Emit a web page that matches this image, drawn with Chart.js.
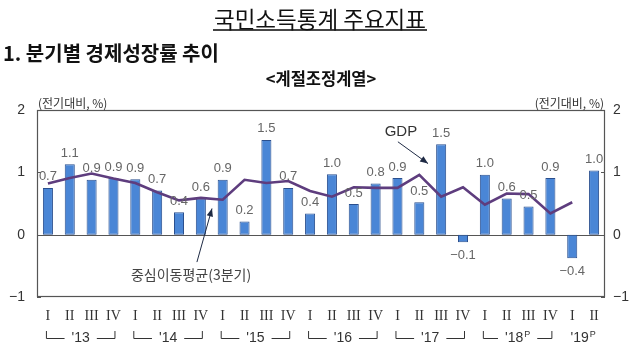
<!DOCTYPE html>
<html><head><meta charset="utf-8">
<script src="https://cdn.jsdelivr.net/npm/chart.js@4.4.1/dist/chart.umd.min.js"></script>
<style>
html,body{margin:0;padding:0;background:#fff;width:640px;height:359px;overflow:hidden;}
#wrap{position:relative;width:640px;height:359px;}
#c{position:absolute;left:0;top:0;}
.t{position:absolute;white-space:nowrap;color:#111;font-family:"Noto Sans CJK KR","Noto Sans",sans-serif;}
#title{left:0;width:640px;text-align:center;top:2px;font-size:22.5px;}
#title span{display:inline-block;line-height:22px;border-bottom:2px solid #444;padding:0 1px;}
#head{left:3px;top:40px;font-size:20px;line-height:26px;font-weight:bold;}
#sub{left:0;width:642px;text-align:center;top:67px;font-size:16.5px;line-height:22px;font-weight:bold;}
</style></head>
<body><div id="wrap">
<canvas id="c" width="640" height="359"></canvas>
<div class="t" id="title"><span>국민소득통계 주요지표</span></div>
<div class="t" id="head">1. 분기별 경제성장률 추이</div>
<div class="t" id="sub">&lt;계절조정계열&gt;</div>
</div>
<script>
const quarters = ['I','II','III','IV','I','II','III','IV','I','II','III','IV','I','II','III','IV','I','II','III','IV','I','II','III','IV','I','II'];
const yearLabels = ["'13","'14","'15","'16","'17","'18","'19"];
const yearMarks = ["","","","","","P","P"];
const gdp = [0.75,1.13,0.88,0.91,0.89,0.71,0.36,0.58,0.88,0.21,1.52,0.75,0.34,0.97,0.49,0.82,0.91,0.52,1.45,-0.12,0.96,0.58,0.45,0.91,-0.38,1.03];
const gdpLabels = ['0.7','1.1','0.9','0.9','0.9','0.7','0.4','0.6','0.9','0.2','1.5','0.7','0.4','1.0','0.5','0.8','0.9','0.5','1.5','−0.1','1.0','0.6','0.5','0.9','−0.4','1.0'];
const movingAvg = [0.82,0.91,0.98,0.90,0.83,0.68,0.55,0.59,0.56,0.88,0.83,0.86,0.70,0.61,0.76,0.75,0.75,0.96,0.61,0.76,0.48,0.66,0.65,0.34,0.52,null];
const yTicks = [-1,0,1,2];
const unitLabel = '(전기대비, %)';
const gdpName = 'GDP';
const maName = '중심이동평균(3분기)';

const annot = {
  gdpText:[16.16,1.65], gdpFrom:[16.02,1.49], gdpTo:[17.4,1.14],
  maText:[6.55,-0.65], maFrom:[6.82,-0.44], maTo:[7.51,0.42]
};

function arrow(ctx,x1,y1,x2,y2,color){
  ctx.save();ctx.strokeStyle=color;ctx.fillStyle=color;ctx.lineWidth=1;
  ctx.beginPath();ctx.moveTo(x1,y1);ctx.lineTo(x2,y2);ctx.stroke();
  const a=Math.atan2(y2-y1,x2-x1),L=8,W=3.2;
  ctx.beginPath();ctx.moveTo(x2,y2);
  ctx.lineTo(x2-L*Math.cos(a)+W*Math.sin(a),y2-L*Math.sin(a)-W*Math.cos(a));
  ctx.lineTo(x2-L*Math.cos(a)-W*Math.sin(a),y2-L*Math.sin(a)+W*Math.cos(a));
  ctx.closePath();ctx.fill();ctx.restore();
}

const frame = {
  id:'frame',
  beforeDatasetsDraw(chart){
    const {ctx,chartArea:a,scales:{x,y}}=chart;
    ctx.save();
    ctx.strokeStyle='#555';ctx.lineWidth=1.2;
    ctx.strokeRect(a.left+0.5,a.top+0.5,a.right-a.left-1,a.bottom-a.top-1);
    const y0=Math.round(y.getPixelForValue(0))+0.5;
    ctx.beginPath();ctx.moveTo(a.left,y0);ctx.lineTo(a.right,y0);ctx.stroke();
    ctx.lineWidth=1;
    yTicks.forEach(v=>{const p=Math.round(y.getPixelForValue(v))+0.5;
      ctx.beginPath();ctx.moveTo(a.left,p);ctx.lineTo(a.left+4,p);ctx.moveTo(a.right-4,p);ctx.lineTo(a.right,p);ctx.stroke();});
    ctx.restore();
  },
  afterDatasetsDraw(chart){
    const {ctx,chartArea:a,scales:{x,y}}=chart;
    ctx.save();
    // bar value labels
    const meta=chart.getDatasetMeta(1);
    ctx.font='13px "Liberation Sans", Arial, sans-serif';
    ctx.fillStyle='#666';ctx.textAlign='center';ctx.textBaseline='middle';
    meta.data.forEach((el,i)=>{
      const v=gdp[i];
      const ty=v>=0?el.y-11:el.y+13;
      ctx.fillText(gdpLabels[i],el.x,ty);
    });
    // unit labels
    ctx.font='12px "Noto Sans CJK KR", sans-serif';ctx.fillStyle='#333';
    ctx.textAlign='left';ctx.fillText(unitLabel,a.left+1,a.top-7);
    ctx.textAlign='right';ctx.fillText(unitLabel,a.right-1,a.top-7);
    // quarter labels
    ctx.font='14px "Liberation Serif", "DejaVu Serif", serif';ctx.fillStyle='#333';ctx.textAlign='center';
    quarters.forEach((q,i)=>ctx.fillText(q,x.getPixelForValue(i),a.bottom+19));
    // year brackets
    ctx.strokeStyle='#333';ctx.lineWidth=1;
    const ly=a.bottom+41, ty=a.bottom+41;
    yearLabels.forEach((lab,k)=>{
      const i0=4*k, i1=Math.min(4*k+3,quarters.length-1);
      const xl=x.getPixelForValue(i0)-2, xr=x.getPixelForValue(i1)+1, xc=(x.getPixelForValue(i0)+x.getPixelForValue(i1))/2;
      ctx.font='14px "Liberation Sans", Arial, sans-serif';
      const w1=ctx.measureText(lab).width;
      ctx.font='9px "Liberation Sans", Arial, sans-serif';
      const w2=yearMarks[k]?ctx.measureText(yearMarks[k]).width+1:0;
      const tw=w1+w2, tx=xc-tw/2;
      ctx.font='14px "Liberation Sans", Arial, sans-serif';
      ctx.textAlign='left';ctx.fillText(lab,tx,ty);
      if(yearMarks[k]){ctx.font='9px "Liberation Sans", Arial, sans-serif';ctx.fillText(yearMarks[k],tx+w1+1,ty-3);}
      if(i1-i0===3){
        const g=7;
        ctx.beginPath();
        ctx.moveTo(xl+0.5,ly-7);ctx.lineTo(xl+0.5,ly+0.5);ctx.lineTo(tx-g,ly+0.5);
        ctx.moveTo(tx+tw+g,ly+0.5);ctx.lineTo(xr+0.5,ly+0.5);ctx.lineTo(xr+0.5,ly-7);
        ctx.stroke();
      }
    });
    // annotations
    const P=p=>[x.getPixelForValue(p[0]),y.getPixelForValue(p[1])];
    ctx.textAlign='center';ctx.fillStyle='#333';
    ctx.font='15px "Liberation Sans", Arial, sans-serif';
    let t=P(annot.gdpText);ctx.fillText(gdpName,t[0],t[1]);
    let f=P(annot.gdpFrom),e=P(annot.gdpTo);arrow(ctx,f[0],f[1],e[0],e[1],'#1e2a44');
    ctx.font='14px "Noto Sans CJK KR", sans-serif';ctx.fillStyle='#444';
    t=P(annot.maText);ctx.fillText(maName,t[0],t[1]);
    f=P(annot.maFrom);e=P(annot.maTo);arrow(ctx,f[0],f[1],e[0],e[1],'#1e2a44');
    ctx.restore();
  }
};

const tickCb = v => v<0 ? '−'+Math.abs(v) : String(v);
new Chart(document.getElementById('c'),{
  type:'bar',
  data:{labels:quarters,datasets:[
    {type:'line',label:maName,data:movingAvg,borderColor:'#5e3d7e',borderWidth:2.6,pointRadius:0,tension:0,fill:false,order:0,yAxisID:'y'},
    {type:'bar',label:gdpName,data:gdp,backgroundColor:'#4a86d6',borderColor:'#2a4f8e',borderWidth:1,borderSkipped:false,barPercentage:0.46,categoryPercentage:1,order:1,yAxisID:'y'}
  ]},
  options:{
    responsive:false,animation:false,
    layout:{padding:{top:110,bottom:62,left:0,right:0}},
    plugins:{legend:{display:false},tooltip:{enabled:false}},
    scales:{
      x:{display:false,offset:true},
      y:{position:'left',min:-1,max:2,ticks:{stepSize:1,padding:12,color:'#333',font:{size:14,family:'"Liberation Sans", Arial, sans-serif'},callback:tickCb},
         grid:{display:false,drawTicks:false},border:{display:false},afterFit:s=>{s.width=37;}},
      y2:{position:'right',min:-1,max:2,ticks:{stepSize:1,padding:8,color:'#333',font:{size:14,family:'"Liberation Sans", Arial, sans-serif'},callback:tickCb},
         grid:{display:false,drawTicks:false},border:{display:false},afterFit:s=>{s.width=35;}}
    }
  },
  plugins:[frame]
});
</script>
</body></html>
